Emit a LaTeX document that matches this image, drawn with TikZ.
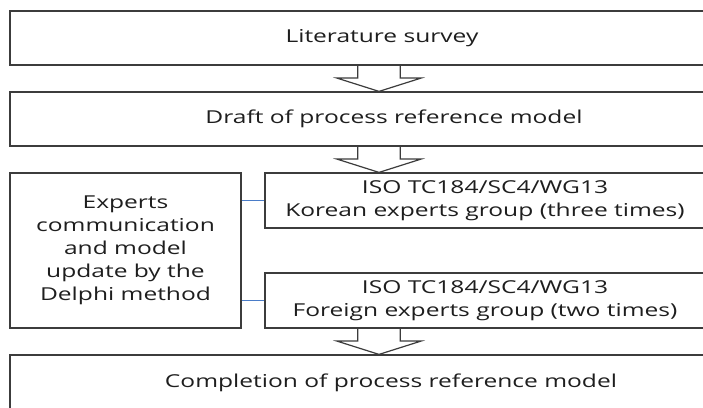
\documentclass[tikz,border=0pt]{standalone}
\usepackage{fontspec}
\setmainfont[FakeStretch=1.38]{Open Sans}
\usetikzlibrary{calc}
\tikzset{
  box/.style={draw=boxgray, line width=1.2pt, rectangle, inner sep=0pt, align=center,
    text=textdark, font=\fontsize{17.8}{22.9}\selectfont},
  arrowline/.style={draw=boxgray, line width=1.2pt, line join=miter},
  link/.style={draw=linkblue, line width=0.9pt}
}
\definecolor{boxgray}{HTML}{3C3C3C}
\definecolor{textdark}{HTML}{1E1E1E}
\definecolor{linkblue}{HTML}{4A7CC8}
\newcommand\blockarr[3]{%
  \draw[arrowline] ($(#1.south -| #3)+(-21.2,0)$) -- ($(#2.north -| #3)+(-21.2,-13.4)$)
    -- ($(#2.north -| #3)+(-42.3,-13.4)$) -- (#2.north -| #3)
    -- ($(#2.north -| #3)+(42.3,-13.4)$) -- ($(#2.north -| #3)+(21.2,-13.4)$)
    -- ($(#1.south -| #3)+(21.2,0)$);}
\begin{document}
\begin{tikzpicture}[x=1pt,y=-1pt]
\useasboundingbox (0,0) rectangle (703,407);
\clip (0,0) rectangle (703,407);
\fill[white] (0,0) rectangle (703,407);
\node[box, minimum width=744pt, minimum height=54pt] (lit) at (382,38) {Literature survey};
\node[box, minimum width=768pt, minimum height=54pt] (draft) at (394,119) {Draft of process reference model};
\node[box, minimum width=231pt, minimum height=155pt] (delphi) at (125.5,250.5)
  {Experts\\communication\\and model\\update by the\\Delphi method};
\node[box, minimum width=440pt, minimum height=55pt] (korean) at (485,200.5)
  {ISO TC184/SC4/WG13\\Korean experts group (three times)};
\node[box, minimum width=440pt, minimum height=55pt] (foreign) at (485,300.5)
  {ISO TC184/SC4/WG13\\Foreign experts group (two times)};
\node[box, minimum width=762pt, minimum height=55pt] (compl) at (391,382.5)
  {Completion of process reference model};
\coordinate (ax) at (379,0);
\blockarr{lit}{draft}{ax}
\blockarr{draft}{korean}{ax}
\blockarr{foreign}{compl}{ax}
\draw[link] (korean.west) -- (korean.west -| delphi.east);
\draw[link] (foreign.west) -- (foreign.west -| delphi.east);
\end{tikzpicture}
\end{document}
